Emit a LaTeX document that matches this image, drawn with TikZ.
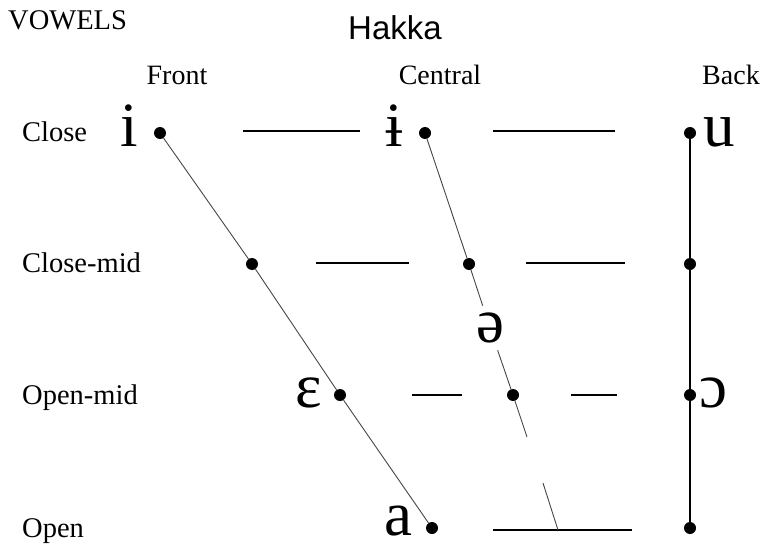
\documentclass[tikz,border=0pt]{standalone}
\usepackage{fontspec}
\setmainfont{Liberation Serif}
\newfontfamily\titlefont{Liberation Sans}
\newfontfamily\ipafont{Liberation Serif}

\begin{document}
\begin{tikzpicture}[
    x=1pt, y=-1pt,
    dot/.style={circle, fill=black, inner sep=0pt, minimum size=12pt},
    heading/.style={font=\fontsize{28}{30}\selectfont, anchor=base, inner sep=0pt},
    rowname/.style={font=\fontsize{28.5}{30}\selectfont, anchor=base west, inner sep=0pt},
    vowel/.style={font=\ipafont\fontsize{63}{66}\selectfont, anchor=base, inner sep=1pt},
    guide/.style={line width=1.3pt},
    chart/.style={gray!55!black, line width=0.9pt}
]

\useasboundingbox (0,0) rectangle (764,546);

% Titles
\node[rowname] (vowels) at (8,29) {VOWELS};
\node[font=\titlefont\fontsize{33}{36}\selectfont, anchor=base, inner sep=0pt] (title) at (395,39) {Hakka};

% Column headings
\node[heading] (front) at (177,84) {Front};
\node[heading] (central) at (440,84) {Central};
\node[heading] (back) at (731,84) {Back};

% Row names
\node[rowname] (close) at (22,141) {Close};
\node[rowname] (closemid) at (22,272) {Close-mid};
\node[rowname] (openmid) at (22,404) {Open-mid};
\node[rowname] (open) at (22,537) {Open};

% Horizontal guides
\foreach \xa/\xb/\y in {243/360/131, 493/615/131, 316/409/263, 526/625/263,
                        412/462/395, 571/617/395, 493/632/530}
    \draw[guide] (\xa,\y) -- (\xb,\y);

% Dots
\node[dot] (iF) at (160,133) {};
\node[dot] (eF) at (252,264) {};
\node[dot] (oF) at (340,395) {};
\node[dot] (aF) at (432,528) {};
\node[dot] (iC) at (425,133) {};
\node[dot] (eC) at (469,264) {};
\node[dot] (oC) at (513,395) {};
\node[dot] (uB) at (690,133) {};
\node[dot] (eB) at (690,264) {};
\node[dot] (oB) at (690,395) {};
\node[dot] (aB) at (690,528) {};

% Vowel symbols
\node[vowel] (i) at (129,146) {i};
\node[vowel] (ibar) at (394,146) {ɨ};
\node[vowel] (u) at (719,146) {u};
\node[vowel] (epsilon) at (309,407) {ɛ};
\node[vowel, anchor=center, inner sep=7pt] (schwa) at (490,328) {ə};
\node[vowel] (openo) at (713,407) {ɔ};
\node[vowel] (a) at (398,535) {a};

% Gaps in the central edge
\coordinate (gapA) at (527,437);
\coordinate (gapB) at (543,483);
\coordinate (aC) at (558,530);

% Edges
\draw[chart] (iF) -- (eF) -- (oF) -- (aF);
\draw[chart] (iC) -- (eC) -- (schwa);
\draw[chart] (schwa) -- (oC) -- (gapA);
\draw[chart] (gapB) -- (aC);
\draw[guide] (uB) -- (eB) -- (oB) -- (aB);

\end{tikzpicture}
\end{document}
